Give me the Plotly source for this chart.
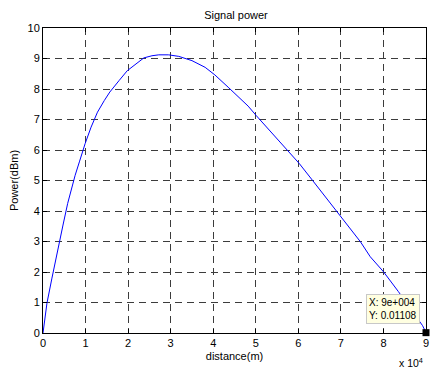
import plotly.graph_objects as go

# Received signal power versus distance
distance_m = [0, 930, 2100, 3100, 4050, 4700, 5800, 7000, 7550, 8550, 9900,
              11300, 12800, 14400, 15700, 17900, 19800, 23700, 25600, 27200,
              29500, 31900, 35000, 38100, 40400, 43500, 45900, 48200, 50100,
              57500, 60200, 63300, 69200, 74600, 76900, 80000, 83500, 89200,
              90000]
power_dbm = [0, 0.98, 1.8, 2.5, 3.05, 3.54, 4.25, 4.9, 5.17, 5.61, 6.21,
             6.75, 7.24, 7.62, 7.9, 8.28, 8.6, 9.02, 9.09, 9.12,
             9.12, 9.07, 8.93, 8.71, 8.46, 8.06, 7.73, 7.44, 7.13,
             5.99, 5.56, 5.01, 3.97, 2.99, 2.5, 2.01, 1.36, 0.24,
             0.01108]

# Data cursor
tip_x = [90000]
tip_y = [0.01108]

x_ticks = [0, 10000, 20000, 30000, 40000, 50000, 60000, 70000, 80000, 90000]
x_tick_text = ["0", "1", "2", "3", "4", "5", "6", "7", "8", "9"]
y_ticks = [0, 1, 2, 3, 4, 5, 6, 7, 8, 9, 10]

FONT = "Liberation Sans, Arial, sans-serif"

fig = go.Figure()
fig.add_trace(go.Scatter(
    x=distance_m, y=power_dbm, mode="lines",
    line=dict(color="#0000ff", width=1),
    hoverinfo="skip", showlegend=False,
))
fig.add_trace(go.Scatter(
    x=tip_x, y=tip_y, mode="markers",
    marker=dict(symbol="square", size=7, color="black"),
    cliponaxis=False, hoverinfo="skip", showlegend=False,
))

axis_common = dict(
    showline=True, linecolor="black", linewidth=1, mirror="ticks",
    ticks="inside", ticklen=4, tickcolor="black", tickwidth=1,
    showgrid=True, gridcolor="#3c3c3c", gridwidth=1, griddash="7px,5px",
    zeroline=False, tickfont=dict(family=FONT, size=11, color="black"),
)

fig.update_xaxes(
    range=[0, 90000], tickvals=x_ticks, ticktext=x_tick_text,
    title=dict(text="distance(m)", font=dict(family=FONT, size=11, color="black"),
               standoff=4),
    **axis_common,
)
fig.update_yaxes(
    range=[0, 10], tickvals=y_ticks,
    title=dict(text="Power(dBm)", font=dict(family=FONT, size=11, color="black"),
               standoff=6),
    **axis_common,
)

fig.add_annotation(
    x=tip_x[0], y=tip_y[0], xref="x", yref="y",
    text="X: 9e+004<br>Y: 0.01108", showarrow=False, align="left",
    xanchor="right", yanchor="bottom", xshift=-6, yshift=9,
    font=dict(family=FONT, size=10, color="black"),
    bgcolor="#ffffe1", bordercolor="#c8c8c8", borderwidth=1, borderpad=2,
)
fig.add_annotation(
    x=1, y=0, xref="paper", yref="paper", yshift=-29, xshift=-1,
    text="x 10<sup>4</sup>", showarrow=False,
    xanchor="right", yanchor="middle",
    font=dict(family=FONT, size=10.5, color="black"),
)

fig.update_layout(
    width=433, height=369,
    margin=dict(l=43, r=4, t=28, b=36),
    paper_bgcolor="white", plot_bgcolor="white",
    title=dict(text="Signal power", x=0.545, xanchor="center",
               y=1 - 15 / 369, yanchor="middle", yref="container",
               font=dict(family=FONT, size=11, color="black")),
)

fig.write_html("out.html")
